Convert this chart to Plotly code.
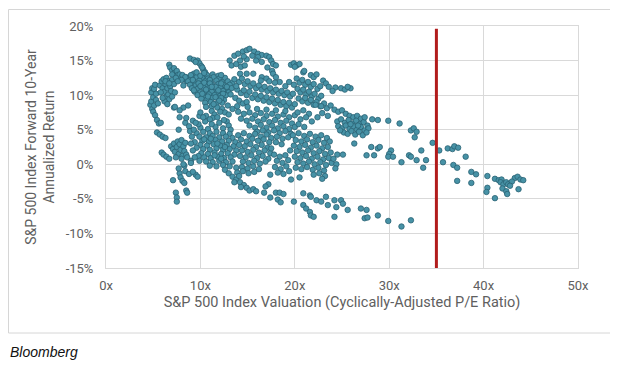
import plotly.graph_objects as go

# ---- data: (CAPE, forward 10-yr annualized return %) ----
left_cluster = [
    (4.7,8.6),(4.8,9.1),(4.8,10.4),(4.9,8.0),(4.9,11.0),(5.0,9.7),(5.0,7.6),(5.1,10.9),(5.1,8.5),
    (5.2,11.5),(5.2,7.1),(5.3,9.3),(5.3,10.2),(5.4,6.4),(5.5,8.8),(5.6,5.9),(5.4,4.6),(5.7,4.3),
    (6.0,4.0),(6.3,3.8),(5.8,6.0),(5.7,11.4),(5.9,12.0),(6.0,11.0),(6.1,12.3),(6.2,10.5),(6.3,11.6),
    (6.4,12.5),(6.4,9.8),(6.5,11.0),(6.6,10.1),(6.6,12.0),(6.7,9.4),(6.8,11.3),(6.9,10.6),(7.0,9.8),
    (7.0,12.2),(6.2,9.1),(6.5,8.7),(7.2,11.6),(7.3,10.4),(6.0,9.6),(5.8,10.4),(6.3,12.0),(6.7,11.7),
    (5.9,1.7),(6.1,1.4),(6.4,1.1),(6.7,0.8),(6.9,2.6),(7.1,2.2),(7.2,3.0),(7.3,1.8),(7.5,2.5),
    (7.6,3.3),(7.7,1.5),(7.8,2.9),(7.9,2.1),(8.0,3.5),(8.1,1.2),(8.2,2.6),(8.3,1.9),(8.4,3.1),
    (8.5,1.4),(7.4,1.0),(8.0,0.8),(7.1,-2.3),(7.4,-4.1),(7.5,-4.8),(7.5,-5.4),(7.8,-1.3),(7.9,-1.9),
    (8.1,-2.4),(8.3,-2.7),(8.5,-3.8),(8.6,-4.1),(7.7,-0.6),(8.3,-0.2),(8.2,0.0),(8.4,-1.0),(8.8,-1.4),
    (9.5,-1.5),(8.6,1.0),(9.0,0.5),(7.2,8.2),(8.2,8.2),(7.8,6.8),(8.4,6.0),(8.8,5.5),(9.2,6.3),
    (9.9,7.0),(8.7,8.5),(7.7,5.0),(8.9,4.8),(7.3,8.3),(7.8,7.8),(8.5,6.7),
]

upper_blob = [
    (6.7,14.4),(6.8,14.0),(7.0,13.6),(7.2,13.9),(7.3,13.2),(7.5,13.5),(7.6,12.9),(7.8,13.0),(8.0,12.6),
    (8.1,12.9),(8.3,12.3),(8.5,12.6),(8.6,12.0),(8.8,12.4),(9.0,12.1),(7.0,13.0),(7.4,12.5),
    (8.9,15.3),(9.3,15.1),(9.7,15.0),(9.9,14.6),(10.1,14.2),(10.3,13.7),(10.5,13.3),(9.5,14.8),(10.2,14.0),
    (9.3,13.1),(10.7,12.9),(11.3,13.0),(11.9,12.8),
    (8.4,12.6),(9.0,12.4),(9.6,12.6),(10.2,12.5),(10.8,12.4),(11.4,12.6),(12.0,12.4),(12.6,12.5),
    (8.7,12.0),(9.3,11.9),(9.9,12.1),(10.5,12.0),(11.1,11.9),(11.7,12.1),(12.3,11.9),(12.9,12.0),(13.4,11.8),
    (8.9,11.5),(9.5,11.4),(10.1,11.6),(10.7,11.5),(11.3,11.4),(11.9,11.6),(12.5,11.4),(13.1,11.5),
    (9.1,11.0),(9.7,10.9),(10.3,11.1),(10.9,11.0),(11.5,10.9),(12.1,11.1),(12.7,10.9),(13.3,11.0),
    (9.4,10.5),(10.0,10.4),(10.6,10.6),(11.2,10.5),(11.8,10.4),(12.4,10.6),(13.0,10.4),
    (9.7,10.0),(10.3,9.9),(10.9,10.1),(11.5,10.0),(12.1,9.9),(12.7,10.0),
    (10.1,9.5),(10.7,9.4),(11.3,9.6),(11.9,9.5),(12.5,9.3),
    (10.5,8.9),(11.1,9.0),(11.7,8.8),(12.3,8.9),(10.6,8.3),(11.2,8.4),(11.8,8.2),
    (9.0,12.9),(9.6,13.3),(10.0,12.8),(10.4,13.2),(11.0,12.2),(12.2,12.9),(9.2,12.2),(9.8,11.7),
    (10.4,11.8),(11.0,11.7),(11.6,11.2),(12.2,11.7),(12.8,11.2),(9.3,10.7),(10.0,11.3),(10.6,10.8),
    (11.2,11.2),(11.9,10.7),(12.4,10.2),(10.2,10.2),(10.8,9.8),(11.6,9.7),(12.2,9.6),(13.2,10.1),
    (11.4,8.7),(12.0,9.2),(8.0,12.2),(7.6,12.0),(8.2,11.4),
    (11.2,7.7),(11.5,7.2),(11.3,6.7),(12.3,8.0),(12.6,7.5),(12.8,6.2),(13.0,5.6),
]

top_cluster = [
    (13.1,15.0),(13.6,15.7),(14.0,16.0),(14.5,16.3),(14.9,16.5),(15.2,16.7),(15.7,16.3),(16.1,16.0),
    (16.5,15.8),(17.0,15.7),(17.3,15.5),(17.5,15.0),(17.7,14.5),(13.3,14.3),(13.8,14.5),(14.3,14.1),
    (14.7,14.3),(14.2,15.0),(14.9,15.2),(15.5,15.7),(16.1,15.5),(14.6,15.6),(15.9,15.0),(16.5,14.8),
    (18.0,14.3),(17.1,14.0),(17.6,13.5),(14.2,13.1),(14.9,13.1),(15.6,13.1),
    (19.6,14.4),(19.9,14.6),(20.2,14.3),(20.5,14.5),(20.0,14.1),(20.9,13.3),
]

upper_band = [
    (13.6,12.3),(14.1,11.9),(14.4,12.4),(14.7,11.6),(15.0,12.0),(15.3,11.3),(15.6,11.7),(15.9,11.0),
    (16.2,11.4),(16.5,10.8),(16.8,11.2),(17.1,10.6),(17.4,11.0),(17.7,10.4),(18.0,10.8),(18.3,10.2),
    (18.6,10.6),(18.9,10.0),(19.2,10.4),(19.5,9.8),(19.8,10.2),(13.9,10.8),(14.3,10.3),(14.6,10.7),
    (14.9,10.0),(15.2,10.5),(15.5,9.6),(15.8,10.1),(16.1,9.4),(16.4,9.9),(16.7,9.2),(17.0,9.7),
    (17.3,9.0),(17.6,9.5),(17.9,8.8),(18.2,9.3),(18.5,8.6),(18.8,9.0),(19.1,8.4),(19.4,8.9),
    (19.7,8.2),(20.0,8.7),(13.7,9.6),(14.1,9.2),(14.5,8.8),(14.9,9.0),(13.8,11.3),(16.5,12.6),
    (17.0,12.4),(17.7,13.1),(18.0,12.6),(18.4,11.9),(16.4,12.1),(17.3,12.0),(17.9,11.8),(19.0,11.3),
    (19.4,11.9),(19.9,11.5),
    (21.0,13.5),(21.7,12.9),(22.0,12.6),(22.3,13.0),(23.0,12.1),(23.3,11.7),(23.6,11.2),(20.2,12.4),
    (20.5,11.8),(20.8,12.2),(21.1,11.5),(21.4,11.9),(21.7,11.2),(22.0,11.6),(22.4,10.9),(22.7,11.3),
    (20.3,10.9),(20.6,10.4),(20.9,10.8),(21.2,10.1),(21.5,10.5),(21.8,9.8),(22.1,10.2),(22.5,9.5),
    (22.8,9.9),(20.4,9.5),(20.8,9.1),(21.1,9.6),(21.4,8.9),(21.7,9.3),(22.0,8.6),(22.3,9.0),
    (22.7,8.4),(23.1,8.8),(23.4,8.1),(23.8,8.5),(24.2,7.9),(24.6,7.6),(25.0,7.8),(25.4,7.3),
    (25.8,7.0),(26.2,6.8),(26.6,7.0),(27.0,6.6),(24.3,11.1),(24.9,11.0),(25.3,10.8),(25.9,11.0),
    (25.6,11.2),(24.0,10.6),
]

mid_band = [
    (14.0,7.6),(14.6,7.3),(15.2,7.5),(15.8,7.1),(16.4,7.4),(17.0,7.0),(17.6,7.3),(18.2,6.9),(18.8,7.2),
    (19.4,6.8),(20.0,7.1),(14.3,6.6),(14.9,6.3),(15.5,6.6),(16.1,6.2),(16.7,6.5),(17.3,6.1),(17.9,6.4),
    (18.5,6.0),(19.1,6.3),(19.7,5.9),(15.2,5.6),(15.8,5.3),(16.4,5.7),(17.0,5.3),(17.6,5.6),(18.2,5.2),
    (18.8,5.5),(19.4,5.1),(20.0,5.4),(16.0,4.7),(16.6,4.9),(17.2,4.6),(17.8,4.9),(18.4,4.5),(19.0,4.8),
    (19.6,4.4),(17.5,3.8),(18.1,4.0),(18.7,3.7),(19.3,3.9),(18.0,3.2),(18.6,2.9),
    (12.9,8.5),(13.4,8.0),(13.9,8.4),(15.0,8.3),(16.0,8.0),(17.0,7.9),(18.0,7.8),(19.0,7.7),
    (20.3,7.5),(20.9,7.8),(21.5,7.3),(20.6,6.5),(21.2,6.8),(21.8,6.2),(20.4,5.8),(21.0,5.4),
    (22.4,6.8),(22.9,7.4),(23.5,7.0),(22.2,8.6),(22.8,8.4),
    (10.0,7.5),(10.6,7.0),(11.0,6.5),(11.8,6.8),(12.5,6.4),(13.0,7.2),(12.1,7.6),
]

lower_blob = [
    (10.0,5.3),(10.8,5.1),(11.6,5.4),(12.4,5.2),(13.2,5.0),(9.6,4.5),(10.3,4.7),(11.0,4.5),(11.7,4.7),
    (12.4,4.5),(13.1,4.4),(9.9,4.0),(10.6,3.9),(11.3,4.1),(12.0,3.9),(12.7,4.0),(13.4,3.8),(10.2,3.4),
    (10.9,3.3),(11.6,3.5),(12.3,3.3),(13.0,3.4),(13.7,3.2),(10.0,2.8),(10.7,2.7),(11.4,2.9),(12.1,2.7),
    (12.8,2.8),(13.5,2.6),(10.3,2.2),(11.0,2.1),(11.7,2.3),(12.4,2.1),(13.1,2.2),(13.8,2.0),(10.1,1.6),
    (10.8,1.5),(11.5,1.7),(12.2,1.5),(12.9,1.6),(13.6,1.4),(10.4,1.0),(11.1,0.9),(11.8,1.1),(12.5,0.9),
    (13.2,1.0),(10.6,0.4),(11.3,0.3),(12.0,0.5),(12.7,0.3),(13.4,0.4),(11.0,-0.2),(11.7,-0.3),(12.4,-0.1),
    (13.1,-0.3),(9.8,5.8),(10.5,6.2),(11.2,5.8),(12.0,6.0),(10.4,3.6),(11.1,3.7),(11.8,3.0),(12.6,2.5),
    (11.5,1.3),(12.2,0.8),(9.4,3.2),(9.6,2.4),(9.8,1.2),(9.9,0.5),(9.1,4.0),(9.3,5.0),(9.0,3.0),
    (9.2,2.0),(9.4,1.0),(9.0,0.2),(9.2,-1.1),(9.7,-1.8),(9.5,6.0),(10.3,6.8),
    (14.0,4.2),(14.6,4.5),(15.2,4.1),(15.8,4.4),(16.4,4.0),(17.0,4.3),(14.3,3.6),(14.9,3.3),(15.5,3.7),
    (16.1,3.4),(16.7,3.6),(17.3,3.2),(14.1,2.8),(14.7,2.6),(15.3,2.9),(15.9,2.5),(16.5,2.8),(17.1,2.4),
    (14.4,2.0),(15.0,1.8),(15.6,2.1),(16.2,1.7),(16.8,2.0),(17.4,1.6),(14.2,1.2),(14.8,1.0),(15.4,1.3),
    (16.0,0.9),(16.6,1.2),(17.2,0.8),(14.5,0.4),(15.1,0.2),(15.7,0.5),(16.3,0.1),(16.9,0.4),(13.8,-0.5),
    (14.4,-0.4),(15.0,-0.6),(15.6,-0.3),(16.2,-0.7),(13.9,-1.2),(14.5,-1.0),(15.1,-1.3),(15.7,-1.1),
    (12.6,-0.8),(13.0,-1.3),(13.4,-1.8),(13.8,-2.2),(14.2,-2.6),(14.6,-3.0),(14.9,-3.4),(15.2,-3.8),
    (15.6,-3.6),(14.1,-1.7),(13.6,-2.6),(14.3,-3.3),
    (19.8,4.2),(20.4,4.5),(21.0,4.1),(21.6,4.4),(22.2,4.0),(22.8,4.2),(23.4,3.8),(20.1,3.5),(20.7,3.3),
    (21.3,3.6),(21.9,3.2),(22.5,3.5),(23.1,3.1),(23.7,3.3),(19.9,2.7),(20.5,2.5),(21.1,2.8),(21.7,2.4),
    (22.3,2.7),(22.9,2.3),(23.5,2.5),(20.2,1.9),(20.8,1.7),(21.4,2.0),(22.0,1.6),(22.6,1.9),(23.2,1.5),
    (23.8,1.7),(20.0,1.1),(20.6,0.9),(21.2,1.2),(21.8,0.8),(22.4,1.1),(23.0,0.7),(23.6,0.9),(20.3,0.3),
    (20.9,0.1),(21.5,0.4),(22.1,0.0),(22.7,0.3),(23.3,-0.1),(23.9,0.2),(20.1,-0.5),(20.7,-0.7),(21.3,-0.4),
    (21.9,-0.8),(22.5,-0.5),(23.1,-0.9),(22.0,-1.5),(22.6,-1.3),(23.2,-1.7),(22.9,-2.1),
    (17.8,1.4),(18.4,1.1),(19.0,1.3),(18.1,0.5),(18.7,0.2),(19.3,0.6),(17.9,-0.4),(18.5,-0.7),(19.1,-0.3),
    (18.2,-1.2),(18.8,-1.4),(19.4,-1.0),(17.5,2.3),(19.5,2.0),(17.4,-1.5),
    (24.4,0.0),(24.5,1.4),(25.1,1.4),(24.3,-0.6),(24.1,0.8),
]

right_cluster = [
    (24.5,6.2),(24.9,6.5),(25.3,6.0),(25.7,6.4),(26.1,5.9),(26.5,6.3),(26.9,5.8),(27.3,6.1),(27.7,5.6),
    (24.6,5.5),(25.0,5.2),(25.4,5.6),(25.8,5.1),(26.2,5.5),(26.6,5.0),(27.0,5.4),(27.4,4.9),(27.8,5.2),
    (25.2,4.6),(25.6,4.4),(26.0,4.8),(26.4,4.3),(26.8,4.7),(27.2,4.2),(27.6,4.6),(25.9,5.8),(26.7,5.6),
    (24.8,4.9),(26.3,3.0),(28.1,2.5),(28.8,2.3),(29.0,2.5),(27.6,1.3),(28.4,1.3),(30.2,2.0),(30.0,1.5),
    (29.9,1.1),(30.4,1.1),(31.3,0.3),(32.1,1.3),(32.3,1.1),(32.9,0.6),(33.4,2.0),(33.9,0.6),(33.6,-0.5),
    (34.6,3.1),(27.4,6.8),(28.2,6.5),(28.8,6.4),(29.9,6.3),(31.1,5.9),(32.3,4.9),(32.6,5.2),(32.9,4.7),
    (32.7,3.9),
]

high_cape = [
    (35.3,2.0),(35.7,0.3),(36.2,2.3),(36.7,2.2),(36.9,2.6),(37.3,2.4),(38.1,1.1),(36.8,-0.1),(37.2,-0.5),
    (38.7,-1.1),(39.2,-1.45),(37.2,-2.4),(38.7,-2.7),(40.4,-1.7),(40.4,-3.4),(40.3,-4.0),(41.2,-4.9),
    (41.2,-2.1),(41.6,-2.3),(41.9,-2.2),(41.8,-2.6),(42.1,-2.9),(42.4,-2.6),(42.6,-2.9),(42.0,-3.5),
    (42.4,-3.9),(42.5,-4.3),(43.3,-2.0),(43.6,-1.8),(43.9,-2.2),(44.2,-2.3),(43.7,-3.6),(43.0,-2.5),
    (42.8,-3.1),
]

lower_trail = [
    (15.9,-3.9),(16.75,-4.1),(17.4,-4.8),(18.0,-4.1),(18.4,-4.1),(18.8,-4.3),(18.2,-5.1),(18.5,-5.5),
    (19.9,-5.4),(20.9,-4.2),(21.6,-4.5),(21.7,-4.7),(20.9,-5.9),(21.2,-6.4),(21.6,-6.9),(21.7,-7.4),
    (22.0,-7.6),(22.3,-5.2),(22.8,-5.4),(23.3,-4.7),(23.5,-5.9),(24.2,-5.2),(24.4,-6.2),(24.9,-5.2),
    (25.1,-5.7),(25.6,-6.6),(27.0,-6.4),(27.6,-6.6),(27.4,-7.8),(27.7,-7.7),(24.2,-7.6),(28.8,-7.4),
    (29.9,-8.2),(31.3,-9.0),(32.3,-8.1),(17.2,-2.9),(16.9,-3.2),(20.5,-1.9),(19.6,-2.2),
]

current_cape_x = [35.0, 35.0]
current_cape_y = [19.6, -15.0]

x_tick_vals = [0, 10, 20, 30, 40, 50]
x_tick_text = ["0x", "10x", "20x", "30x", "40x", "50x"]
y_tick_vals = [-15, -10, -5, 0, 5, 10, 15, 20]
y_tick_text = ["-15%", "-10%", "-5%", "0%", "5%", "10%", "15%", "20%"]

groups = [left_cluster, upper_blob, top_cluster, upper_band, mid_band,
          lower_blob, right_cluster, high_cape, lower_trail]
cape = [p[0] for g in groups for p in g]
fwd_return = [p[1] for g in groups for p in g]

# ---- figure (page body has an 8px margin, so the figure is 8px smaller) ----
OFF = 8
W, H = 618 - OFF, 365 - OFF
L, R, T, B = 106 - OFF, 40, 26 - OFF, 97
pw, ph = W - L - R, H - T - B

def px_to_paper_x(px):
    return (px - OFF - L) / pw

def px_to_paper_y(py):
    return (H - B - (py - OFF)) / ph

fig = go.Figure()
fig.add_trace(go.Scatter(
    x=cape, y=fwd_return, mode="markers",
    marker=dict(size=5.5, color="#4792a6", line=dict(color="#2a6273", width=0.8)),
    showlegend=False, hoverinfo="skip",
))
fig.add_trace(go.Scatter(
    x=current_cape_x, y=current_cape_y, mode="lines",
    line=dict(color="#b11c1c", width=3), showlegend=False, hoverinfo="skip",
))

axis_font = dict(family="Roboto, Arial, sans-serif", size=13, color="#606060")
x_title_font = dict(family="Roboto, Arial, sans-serif", size=14.5, color="#606060")
y_title_font = dict(family="Roboto, Arial, sans-serif", size=14, color="#606060")

fig.update_xaxes(
    range=[0, 50], tickvals=x_tick_vals, ticktext=x_tick_text,
    showgrid=True, gridcolor="#d9d9d9", gridwidth=1, zeroline=False,
    showline=True, linecolor="#d9d9d9", mirror=True,
    ticks="outside", ticklen=5, tickcolor="rgba(0,0,0,0)",
    tickfont=axis_font,
    title=dict(text="S&P 500 Index Valuation (Cyclically-Adjusted P/E Ratio)",
               font=x_title_font, standoff=5),
    automargin=False,
)
fig.update_yaxes(
    range=[-15, 20], tickvals=y_tick_vals, ticktext=y_tick_text,
    showgrid=True, gridcolor="#d9d9d9", gridwidth=1, zeroline=False,
    showline=True, linecolor="#d9d9d9", mirror=True,
    ticks="outside", ticklen=9, tickcolor="rgba(0,0,0,0)",
    tickfont=axis_font,
    title=dict(text="S&P 500 Index Forward 10-Year<br>Annualized Return",
               font=y_title_font, standoff=7),
    automargin=False,
)

fig.add_shape(type="rect", xref="paper", yref="paper",
              x0=px_to_paper_x(8.5), x1=px_to_paper_x(615),
              y0=px_to_paper_y(333), y1=px_to_paper_y(9.5),
              line=dict(color="#d6d6d6", width=1), fillcolor="rgba(0,0,0,0)", layer="below")

fig.add_annotation(text="<i>Bloomberg</i>", xref="paper", yref="paper",
                   x=px_to_paper_x(8), y=px_to_paper_y(352),
                   xanchor="left", yanchor="middle", showarrow=False,
                   font=dict(family="Liberation Sans, Arial, sans-serif", size=14, color="#111111"))

fig.update_layout(
    width=W, height=H,
    margin=dict(l=L, r=R, t=T, b=B),
    paper_bgcolor="white", plot_bgcolor="white",
)

fig.write_html("out.html")
